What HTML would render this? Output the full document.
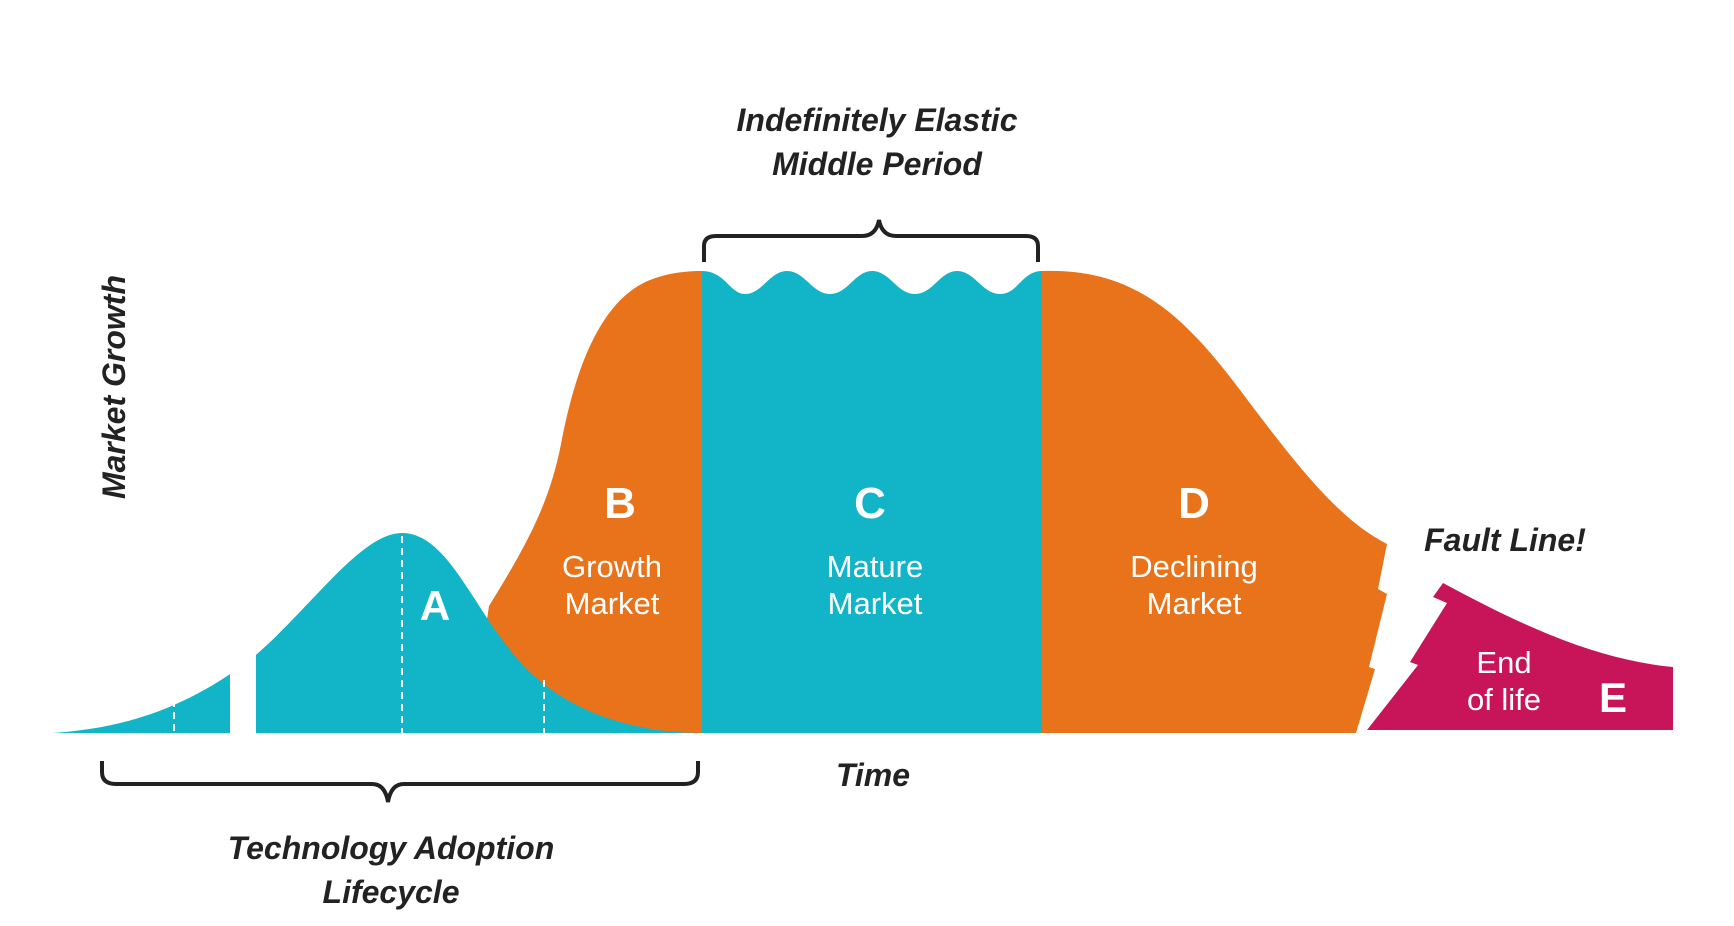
<!DOCTYPE html>
<html><head><meta charset="utf-8"><style>
html,body{margin:0;padding:0;background:#fff;}
svg{display:block}
text{font-family:"Liberation Sans",sans-serif;}
</style></head><body>
<svg width="1734" height="926" viewBox="0 0 1734 926" xmlns="http://www.w3.org/2000/svg">
<path d="M470,733 L489,606 C530,540 550,500 561,444 C575,370 600,300 650,280 C670,272 690,271 702,271 L702,733 Z" fill="#e8731a"/>
<path d="M53,733 C130,728 190,705 250,660 C310,610 360,533 402,533 C445,533 470,600 510,650 C560,715 640,733 702,733 Z" fill="#11b5c7"/>
<rect x="230" y="600" width="26" height="140" fill="#fff"/>
<g stroke="#fff" stroke-width="2" stroke-dasharray="7,5">
<line x1="174" y1="700" x2="174" y2="733"/>
<line x1="402" y1="536" x2="402" y2="733"/>
<line x1="544" y1="680" x2="544" y2="733"/>
</g>
<path d="M702,271 C725,271 730,294 745,294 C762,294 770,271 787,271 C805,271 812,294 830,294 C848,294 855,271 872,271 C890,271 897,294 915,294 C933,294 940,271 957,271 C975,271 982,294 1000,294 C1018,294 1022,271 1042,271 L1042,733 L702,733 Z" fill="#11b5c7"/>
<path d="M1042,271 C1130,268 1180,310 1240,390 C1300,470 1340,520 1387,544 L1378,589 L1387,594 L1369,667 L1375,669 L1356,733 L1042,733 Z" fill="#e8731a"/>
<path d="M1433,597 L1443,583 C1530,630 1600,660 1673,667 L1673,730 L1367,730 L1418,665 L1410,662 L1447,603 Z" fill="#c8155a"/>
<path d="M704,262 L704,246 Q704,236 716,236 L862,236 Q876,236 879,220 Q882,236 896,236 L1026,236 Q1038,236 1038,246 L1038,262" fill="none" stroke="#222" stroke-width="4"/>
<path d="M102,761 L102,772 Q102,784 116,784 L372,784 Q385,784 388,802 Q391,784 404,784 L684,784 Q698,784 698,772 L698,761" fill="none" stroke="#222" stroke-width="4"/>
<g fill="#fff" text-anchor="middle" font-size="31">
<text x="620" y="518" font-weight="bold" font-size="44">B</text>
<text x="612" y="577">Growth</text>
<text x="612" y="614">Market</text>
<text x="870" y="518" font-weight="bold" font-size="44">C</text>
<text x="875" y="577">Mature</text>
<text x="875" y="614">Market</text>
<text x="1194" y="518" font-weight="bold" font-size="44">D</text>
<text x="1194" y="577">Declining</text>
<text x="1194" y="614">Market</text>
<text x="435" y="620" font-weight="bold" font-size="42">A</text>
<text x="1504" y="673">End</text>
<text x="1504" y="710">of life</text>
<text x="1613" y="712" font-weight="bold" font-size="42">E</text>
</g>
<g fill="#222" text-anchor="middle" font-style="italic" font-weight="bold" font-size="32">
<text x="877" y="131">Indefinitely Elastic</text>
<text x="877" y="175">Middle Period</text>
<text x="1505" y="551">Fault Line!</text>
<text x="873" y="786">Time</text>
<text x="391" y="859">Technology Adoption</text>
<text x="391" y="903">Lifecycle</text>
<text x="0" y="0" transform="translate(125,387) rotate(-90)">Market Growth</text>
</g>
</svg>
</body></html>
